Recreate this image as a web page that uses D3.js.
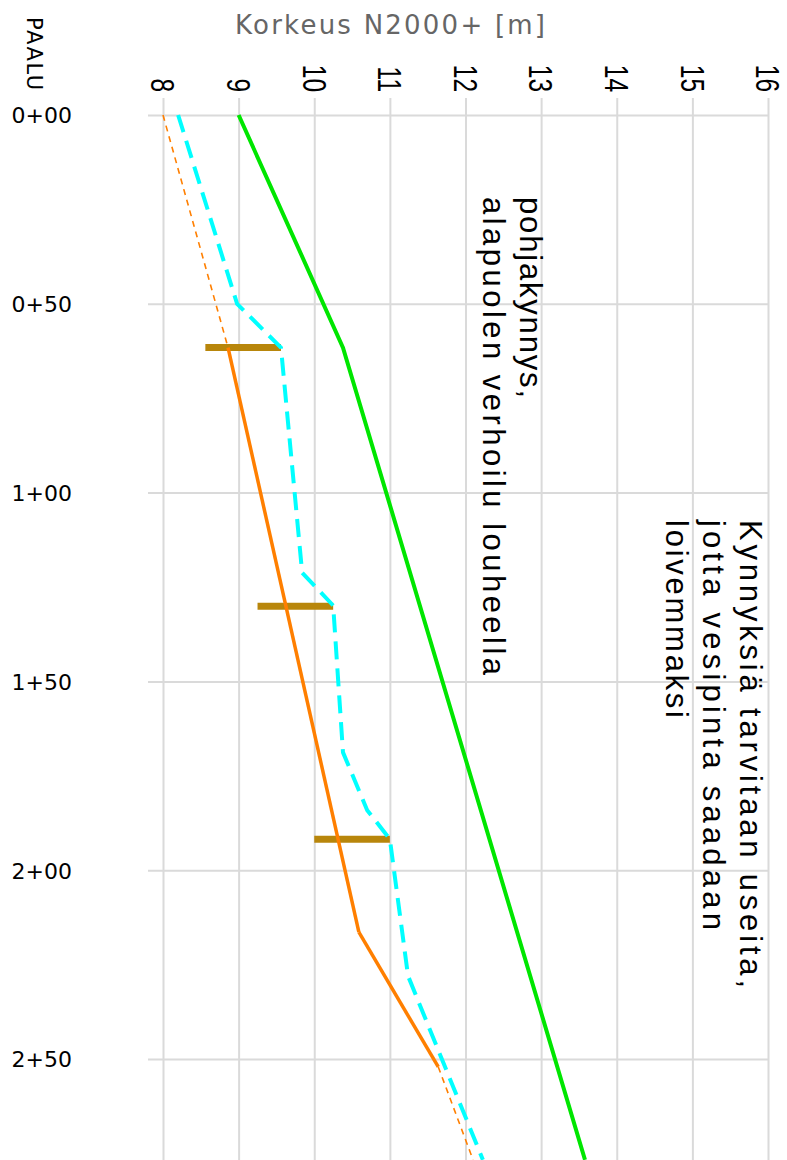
<!DOCTYPE html>
<html>
<head>
<meta charset="utf-8">
<script src="https://cdn.jsdelivr.net/npm/d3@7"></script>
<style>
  body { margin: 0; background: #fff; }
</style>
</head>
<body>
<div id="chart"></div>
<script>
const width = 787, height = 1160;

// axes: elevation runs across, station (paalu) runs down
const elevTicks = [8, 9, 10, 11, 12, 13, 14, 15, 16];
const stationTicks = [0, 50, 100, 150, 200, 250];
const stationLabels = ["0+00", "0+50", "1+00", "1+50", "2+00", "2+50"];

// maanpinta (green)
const groundSta = [0, 61.6, 276.7];
const groundElev = [9.0, 10.38, 13.58];

// uoman pohja (orange), dashed outside the design stretch
const bedSta = [0, 61.6, 216.4, 252.1, 276.7];
const bedElev = [8.0, 8.86, 10.59, 11.64, 12.1];
const bedSolid = [false, true, true, false];

// vesipinta (cyan dashed)
const waterSta = [0, 50, 61.6, 121.2, 129.9, 168.8, 184.1, 191.8, 228, 276.7];
const waterElev = [8.2, 8.98, 9.56, 9.84, 10.25, 10.38, 10.70, 11.0, 11.24, 12.23];

// kynnykset
const sillSta = [61.6, 130.1, 191.8];
const sillFrom = [8.56, 9.25, 10.0];
const sillTo = [9.56, 10.25, 11.0];

const note1 = ["pohjakynnys,", "alapuolen verhoilu louheella"];
const note2 = ["Kynnyksiä tarvitaan useita,", "jotta vesipinta saadaan", "loivemmaksi"];

const svg = d3.select("#chart").append("svg")
    .attr("width", width).attr("height", height)
    .style("background", "#fff");

const x = d3.scaleLinear().domain([8, 16]).range([163, 768]);
const y = d3.scaleLinear().domain([0, 250]).range([115, 1059]);

const gridTop = 98, gridLeft = 148;

// vertical grid + elevation labels
const xAxis = svg.append("g")
    .attr("transform", `translate(0,${gridTop})`)
    .call(d3.axisTop(x).tickValues(elevTicks).tickSize(-(height - gridTop)).tickFormat(d3.format("d")));
xAxis.select(".domain").remove();
xAxis.selectAll("line").attr("stroke", "#dadada").attr("stroke-width", 2);
xAxis.selectAll("text")
    .attr("x", 0).attr("y", 0).attr("dy", "0.36em")
    .attr("transform", "translate(0,-6) rotate(90) scale(0.72,1)")
    .attr("text-anchor", "end")
    .attr("fill", "#000")
    .style("font-family", "'Liberation Sans', Arial, sans-serif")
    .style("font-size", "34px");

// horizontal grid + station labels
const yAxis = svg.append("g")
    .attr("transform", `translate(${gridLeft},0)`)
    .call(d3.axisLeft(y).tickValues(stationTicks).tickSize(-(x(16) - gridLeft))
        .tickFormat((d, i) => stationLabels[i]));
yAxis.select(".domain").remove();
yAxis.selectAll("line").attr("stroke", "#dadada").attr("stroke-width", 2);
yAxis.selectAll("text")
    .attr("x", 72 - gridLeft).attr("dy", "0.36em")
    .attr("text-anchor", "end")
    .attr("fill", "#000")
    .style("font-family", "'DejaVu Sans', sans-serif")
    .style("font-size", "22px");

// titles
svg.append("text")
    .attr("x", 235).attr("y", 34)
    .attr("textLength", 310).attr("lengthAdjust", "spacing")
    .attr("fill", "#666")
    .style("font-family", "'DejaVu Sans', sans-serif")
    .style("font-size", "26px")
    .text("Korkeus N2000+ [m]");

svg.append("text")
    .attr("transform", "translate(27,17) rotate(90)")
    .attr("textLength", 73).attr("lengthAdjust", "spacing")
    .attr("fill", "#000")
    .style("font-family", "'DejaVu Sans', sans-serif")
    .style("font-size", "21px")
    .text("PAALU");

const line = d3.line().x(d => x(d[1])).y(d => y(d[0]));

// sills
svg.append("g").selectAll("line")
    .data(sillSta.map((s, i) => ({ s, a: sillFrom[i], b: sillTo[i] })))
    .join("line")
    .attr("x1", d => x(d.a)).attr("x2", d => x(d.b))
    .attr("y1", d => y(d.s)).attr("y2", d => y(d.s))
    .attr("stroke", "#b8860b")
    .attr("stroke-width", 7);

// bed
const bedPts = d3.zip(bedSta, bedElev);
svg.append("g").selectAll("path")
    .data(bedSolid.map((solid, i) => ({ solid, pts: [bedPts[i], bedPts[i + 1]] })))
    .join("path")
    .attr("d", d => line(d.pts))
    .attr("fill", "none")
    .attr("stroke", "#ff7f00")
    .attr("stroke-width", d => d.solid ? 3.5 : 1.6)
    .attr("stroke-dasharray", d => d.solid ? null : "6,5");

// water surface
svg.append("path")
    .attr("d", line(d3.zip(waterSta, waterElev)))
    .attr("fill", "none")
    .attr("stroke", "#00ffff")
    .attr("stroke-width", 4)
    .attr("stroke-dasharray", "18,9")
    .attr("stroke-linejoin", "round");

// ground
svg.append("path")
    .attr("d", line(d3.zip(groundSta, groundElev)))
    .attr("fill", "none")
    .attr("stroke", "#00e600")
    .attr("stroke-width", 4);

// notes
function note(lines, y0, x0, lengths) {
    lines.forEach((t, i) => {
        svg.append("text")
            .attr("transform", `translate(${x0 - i * 37},${y0}) rotate(90)`)
            .attr("textLength", lengths[i]).attr("lengthAdjust", "spacing")
            .attr("fill", "#000")
            .style("font-family", "'Liberation Sans', Arial, sans-serif")
            .style("font-size", "31px")
            .text(t);
    });
}
note(note1, 197, 520, [201, 478]);
note(note2, 520, 740, [468, 410, 198]);
</script>
</body>
</html>
